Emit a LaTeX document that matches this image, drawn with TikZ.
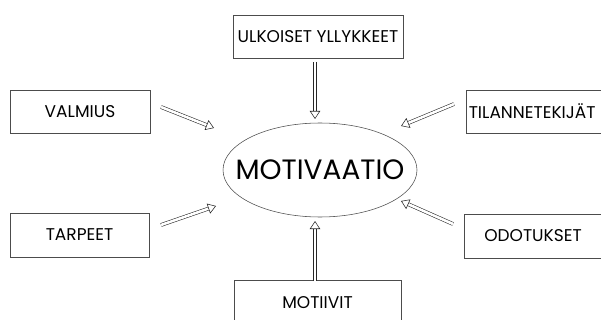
\documentclass[tikz,border=0pt]{standalone}
\usepackage{fontspec}
\setmainfont{Poppins}
\usetikzlibrary{arrows.meta}
\tikzset{
  box/.style={draw=black!70, line width=0.55pt, inner sep=0pt, font=\fontsize{17}{19}\selectfont},
  hollow/.style={draw=black!85, line width=0.55pt, double=white, double distance=2.6pt,
    -{Triangle[length=8pt,width=10.5pt,fill=white]}},
}
\begin{document}
\begin{tikzpicture}[x=1pt,y=-1pt]
\useasboundingbox (0,0) rectangle (601,320);
\clip (0,0) rectangle (601,320);
\fill[white] (0,0) rectangle (601,320);
% boxes
\node[box, minimum width=170pt, minimum height=43pt] (ulk) at (318,36.5) {ULKOISET YLLYKKEET};
\node[box, minimum width=140pt, minimum height=43pt] (val) at (80,111.5) {VALMIUS};
\node[box, minimum width=139pt, minimum height=44pt] (tar) at (79.5,235) {TARPEET};
\node[box, anchor=west, minimum height=43pt, inner xsep=2.5pt, text width=140pt, align=left] (til) at (466,111.5) {TILANNETEKIJÄT};
\node[box, anchor=west, minimum height=44pt, inner xsep=20pt, text width=108pt, align=left] (odo) at (464,236) {ODOTUKSET};
\node[box, minimum width=167pt, minimum height=46pt] (mot) at (317.5,303) {MOTIIVIT};
% centre
\node[inner sep=0pt, font=\fontsize{28}{30}\selectfont] (mv) at (320,170) {MOTIVAATIO};
\draw[black!70, line width=0.55pt] (mv.center) ellipse [x radius=97, y radius=47];
% arrow end points
\coordinate (ulkS) at (315,62);
\coordinate (ulkT) at (315,119);
\coordinate (valS) at (161,107);
\coordinate (valT) at (214,128);
\coordinate (tilS) at (454,104);
\coordinate (tilT) at (401,126);
\coordinate (tarS) at (161,225);
\coordinate (tarT) at (216,206);
\coordinate (odoS) at (453,224);
\coordinate (odoT) at (401,201);
\coordinate (motS) at (315,281);
\coordinate (motT) at (315,221);
\draw[hollow] (ulkS) -- (ulkT);
\draw[hollow] (valS) -- (valT);
\draw[hollow] (tilS) -- (tilT);
\draw[hollow] (tarS) -- (tarT);
\draw[hollow] (odoS) -- (odoT);
\draw[hollow] (motS) -- (motT);
\end{tikzpicture}
\end{document}
